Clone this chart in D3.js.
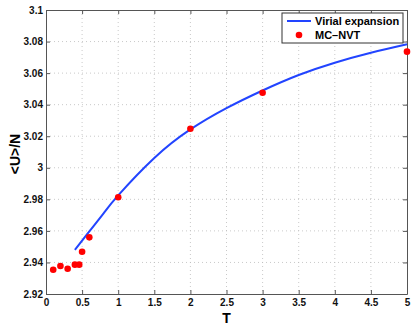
<!DOCTYPE html>
<html>
<head>
<meta charset="utf-8">
<script src="https://cdn.jsdelivr.net/npm/d3@7"></script>
<style>
  body { margin: 0; background: #fff; }
  text { font-family: "Liberation Sans", Arial, sans-serif; font-weight: bold; }
</style>
</head>
<body>
<div id="chart"></div>
<script>
// Virial expansion curve
const virialT = [0.4, 0.6, 0.8, 1, 1.5, 2, 2.5, 3, 3.5, 4, 4.5, 5];
const virialU = [2.948, 2.9597, 2.9713, 2.9825, 3.0062, 3.0243, 3.0378, 3.0490, 3.0588, 3.0666, 3.0729, 3.0783];

// MC-NVT simulation points
const mcT = [0.1, 0.2, 0.3, 0.4, 0.46, 0.5, 0.6, 1, 2, 3, 5];
const mcU = [2.9354, 2.9377, 2.936, 2.9386, 2.9386, 2.9468, 2.9559, 2.9813, 3.0247, 3.0476, 3.0736];

const xTicks = [0, 0.5, 1, 1.5, 2, 2.5, 3, 3.5, 4, 4.5, 5];
const yTicks = [2.92, 2.94, 2.96, 2.98, 3, 3.02, 3.04, 3.06, 3.08, 3.1];

const W = 415, H = 327;
const margin = { top: 10, right: 8, bottom: 33, left: 46 };
const width = W - margin.left - margin.right;
const height = H - margin.top - margin.bottom;

const svg = d3.select('#chart').append('svg')
  .attr('width', W)
  .attr('height', H);

const g = svg.append('g')
  .attr('transform', `translate(${margin.left},${margin.top})`);

const x = d3.scaleLinear().domain([0, 5]).range([0, width]);
const y = d3.scaleLinear().domain([2.92, 3.1]).range([height, 0]);

// grid
g.append('g')
  .selectAll('line')
  .data(xTicks.slice(1, -1))
  .enter().append('line')
  .attr('x1', d => x(d)).attr('x2', d => x(d))
  .attr('y1', 0).attr('y2', height)
  .attr('stroke', '#bbb')
  .attr('stroke-width', 0.8)
  .attr('stroke-dasharray', '1,3');

g.append('g')
  .selectAll('line')
  .data(yTicks.slice(1, -1))
  .enter().append('line')
  .attr('x1', 0).attr('x2', width)
  .attr('y1', d => y(d)).attr('y2', d => y(d))
  .attr('stroke', '#bbb')
  .attr('stroke-width', 0.8)
  .attr('stroke-dasharray', '1,3');

// axes (ticks inward)
const fmtY = d => d === 3 ? '3' : (d === 3.1 ? '3.1' : d3.format('.2f')(d));
const axisStyle = sel => {
  sel.select('.domain').attr('stroke', '#555').attr('stroke-width', 1);
  sel.selectAll('.tick line').attr('stroke', '#555');
  sel.selectAll('.tick text').attr('fill', '#111').style('font-size', '10px').style('font-weight', 'bold');
};

g.append('g')
  .attr('transform', `translate(0,${height})`)
  .call(d3.axisBottom(x).tickValues(xTicks).tickFormat(d3.format('')).tickSize(-4).tickSizeOuter(0).tickPadding(5))
  .call(axisStyle);

g.append('g')
  .call(d3.axisLeft(y).tickValues(yTicks).tickFormat(fmtY).tickSize(-4).tickSizeOuter(0).tickPadding(3))
  .call(axisStyle);

g.append('g')
  .call(d3.axisTop(x).tickValues(xTicks).tickFormat('').tickSize(-4).tickSizeOuter(0))
  .call(axisStyle);

g.append('g')
  .attr('transform', `translate(${width},0)`)
  .call(d3.axisRight(y).tickValues(yTicks).tickFormat('').tickSize(-4).tickSizeOuter(0))
  .call(axisStyle);

// virial line
const line = d3.line()
  .x((d, i) => x(virialT[i]))
  .y(d => y(d))
  .curve(d3.curveNatural);

g.append('path')
  .datum(virialU)
  .attr('fill', 'none')
  .attr('stroke', '#2244ff')
  .attr('stroke-width', 2)
  .attr('d', line);

// MC points
g.selectAll('.dot')
  .data(mcU)
  .enter().append('circle')
  .attr('class', 'dot')
  .attr('cx', (d, i) => x(mcT[i]))
  .attr('cy', d => y(d))
  .attr('r', 3.3)
  .attr('fill', '#ff0000');

// axis labels
svg.append('text')
  .attr('x', margin.left + x(2.5))
  .attr('y', 323)
  .attr('text-anchor', 'middle')
  .style('font-size', '14px')
  .text('T');

svg.append('text')
  .attr('transform', `translate(20,${margin.top + height / 2 + 2}) rotate(-90)`)
  .attr('text-anchor', 'middle')
  .style('font-size', '14px')
  .text('<U>/N');

// legend
const lg = svg.append('g').attr('transform', 'translate(282,13)');
lg.append('rect')
  .attr('width', 121).attr('height', 30)
  .attr('fill', '#fff')
  .attr('stroke', '#333')
  .attr('stroke-width', 1);
lg.append('line')
  .attr('x1', 5).attr('x2', 29)
  .attr('y1', 8).attr('y2', 8)
  .attr('stroke', '#2244ff').attr('stroke-width', 2);
lg.append('text')
  .attr('x', 33).attr('y', 12)
  .style('font-size', '11px')
  .text('Virial expansion');
lg.append('circle')
  .attr('cx', 17).attr('cy', 22)
  .attr('r', 3.3)
  .attr('fill', '#ff0000');
lg.append('text')
  .attr('x', 33).attr('y', 26)
  .style('font-size', '11px')
  .text('MC\u2013NVT');
</script>
</body>
</html>
